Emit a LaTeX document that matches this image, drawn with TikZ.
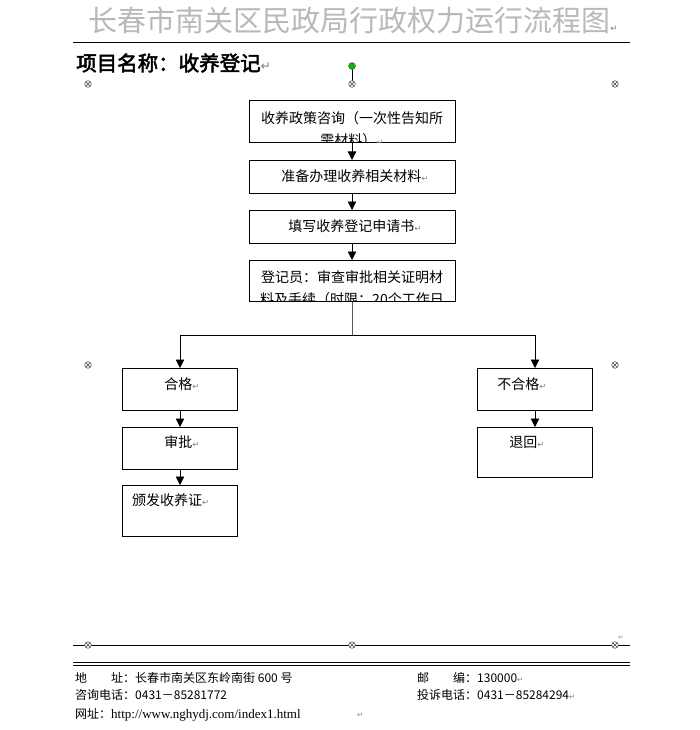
\documentclass[tikz,border=0pt]{standalone}
\usepackage{fontspec}
\setmainfont{Noto Sans CJK SC}
\newfontfamily\boldcjk[FakeBold=2.5]{Noto Sans CJK SC}
\newfontfamily\markfont{DejaVu Sans}
\newfontfamily\urlfont{Liberation Serif}
\usetikzlibrary{arrows.meta}
\newcommand{\ret}{{\markfont\color{gray}\scalebox{0.6}{↵}}}

\begin{document}
\begin{tikzpicture}[x=1pt,y=-1pt,>={Triangle[length=8.5pt,width=8.5pt]},
	flow box/.style={draw,line width=0.8pt,minimum width=206pt,minimum height=33pt,inner sep=0pt,anchor=north},
	small box/.style={flow box,minimum width=115pt},
	box text/.style={font=\fontsize{14}{22}\selectfont,inner sep=0pt,align=center},
	foot/.style={anchor=west,inner sep=0pt,font=\fontsize{12}{12}\selectfont},
	handle/.style={draw=gray!50!black,line width=0.5pt,fill=white}]

	\fill[white] (0,0) rectangle (699,730);
	\useasboundingbox (0,0) rectangle (699,730);

	\node[font=\fontsize{29}{29}\selectfont,text=gray!55,inner sep=0pt] (title) at (353,20) {长春市南关区民政局行政权力运行流程图{\scalebox{0.5}{\ret}}};
	\draw[line width=0.8pt] (73,42) -- (630,42);
	\node[anchor=west,inner sep=0pt,font=\boldcjk\fontsize{20.5}{20.5}\selectfont] (project) at (76,63) {项目名称：收养登记\ret};

	\node[flow box,minimum height=42pt] (consult) at (352,100) {};
	\node[flow box] (prepare) at (352,160) {};
	\node[flow box] (apply) at (352,210) {};
	\node[flow box,minimum height=41pt] (review) at (352,260) {};
	\node[small box,minimum height=42pt] (pass) at (180,368) {};
	\node[small box,minimum height=42pt] (approve) at (180,427) {};
	\node[small box,minimum height=51pt] (issue) at (180,485) {};
	\node[small box,minimum height=42pt] (fail) at (535,368) {};
	\node[small box,minimum height=50pt] (back) at (535,427) {};

	\begin{scope}
		\clip (consult.north west) rectangle (consult.south east);
		\node[box text] (consult text) at (352,129) {收养政策咨询（一次性告知所\\需材料）\ret};
	\end{scope}
	\node[box text] (prepare text) at (355,176) {准备办理收养相关材料\ret};
	\node[box text] (apply text) at (355,226) {填写收养登记申请书\ret};
	\begin{scope}
		\clip (review.north west) rectangle (review.south east);
		\node[box text] (review text) at (352,288) {登记员：审查审批相关证明材\\料及手续（时限：20个工作日};
	\end{scope}
	\node[box text] (pass text) at (182,384) {合格\ret};
	\node[box text] (approve text) at (182,442) {审批\ret};
	\node[box text,anchor=west] (issue text) at (132,500) {颁发收养证\ret};
	\node[box text] (fail text) at (522,384) {不合格\ret};
	\node[box text] (back text) at (527,442) {退回\ret};

	\path[->,line width=0.8pt]
		(consult) edge (prepare)
		(prepare) edge (apply)
		(apply) edge (review)
		(pass) edge (approve)
		(approve) edge (issue)
		(fail) edge (back);

	\coordinate (split) at (352,335);
	\draw[line width=0.8pt,gray!70!black] (review) -- (split);
	\draw[->,line width=0.8pt] (split) -| (pass);
	\draw[->,line width=0.8pt] (split) -| (fail);

	\draw[line width=0.8pt] (73,645) -- (630,645);
	\draw[line width=0.8pt] (73,662) -- (630,662);
	\draw[line width=0.8pt] (73,665.5) -- (630,665.5);
	\node[inner sep=0pt] (line mark) at (621,638) {\ret};

	\draw[line width=0.6pt] (352,66) -- (352,84);
	\draw[fill=green!75!black,draw=black!70,line width=0.4pt] (352,66) circle (3.5pt);
	\foreach \hx/\hy in {88/84,352/84,615/84,88/365,615/365,88/645,352/645,615/645}{
		\draw[handle] (\hx,\hy) circle (3.3pt);
		\draw[gray!50!black,line width=0.4pt] (\hx-2.2,\hy-2.2) -- (\hx+2.2,\hy+2.2) (\hx-2.2,\hy+2.2) -- (\hx+2.2,\hy-2.2);
	}

	\node[foot] (address) at (75,678) {地　　址：长春市南关区东岭南街 600 号};
	\node[foot] (postcode) at (417,678) {邮　　编：130000\ret};
	\node[foot] (phone) at (75,695) {咨询电话：0431－85281772};
	\node[foot] (complaint) at (417,695) {投诉电话：0431－85284294\ret};
	\node[foot] (website) at (75,715) {网址：{\urlfont\fontsize{13}{13}\selectfont http://www.nghydj.com/index1.html}};
	\node[foot] (web mark) at (357,715) {\ret};
\end{tikzpicture}
\end{document}
